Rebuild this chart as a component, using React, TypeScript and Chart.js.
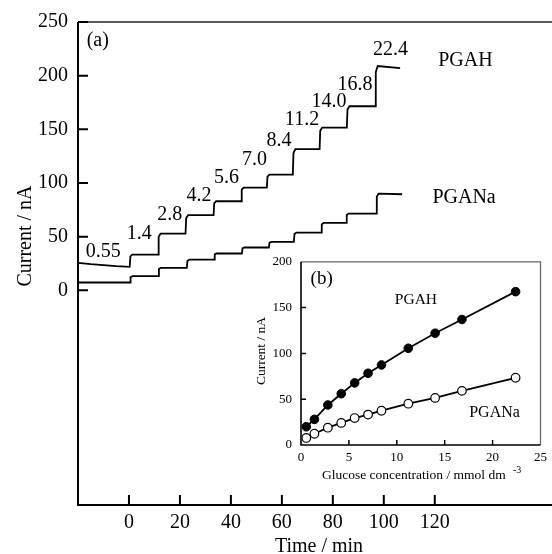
import { useEffect, useRef } from 'react';
import { Chart, registerables } from 'chart.js';

Chart.register(...registerables);

const FONT = '"Liberation Serif", "Times New Roman", Times, serif';

// ---------- panel (a): current vs time ----------
const timeTicks = [0, 20, 40, 60, 80, 100, 120];
const currentTicks = [0, 50, 100, 150, 200, 250];

// PGAH trace
const pgahBaseTimes = [-20, -15, -10, -5, 0.3];
const pgahBaseValues = [25.6, 24.4, 23.5, 22.5, 21.9];
const pgahStepTimes = [0.3, 11.4, 22.2, 33.2, 44.0, 54.1, 64.3, 74.8, 85.5, 96.6];
const pgahStepLevels = [33.3, 52.9, 70.0, 83.0, 95.7, 107.8, 131.5, 151.6, 171.5, 209.0];
const pgahEndTime = 106.4;
const pgahEndValue = 207.0;

// PGANa trace
const pganaBaseTimes = [-20, 0.5];
const pganaBaseValues = [7.3, 7.3];
const pganaStepTimes = [0.5, 11.5, 22.7, 33.4, 44.3, 54.9, 64.7, 75.4, 85.2, 97.0];
const pganaStepLevels = [13.2, 21.0, 28.7, 34.3, 39.9, 45.2, 53.8, 62.8, 71.5, 90.1];
const pganaEndTime = 107.2;
const pganaEndValue = 89.5;

// concentration annotations (mmol dm-3), anchored in data units
const concLabels = ['0.55', '1.4', '2.8', '4.2', '5.6', '7.0', '8.4', '11.2', '14.0', '16.8', '22.4'];
const concLabelTimes = [-10.1, 4.0, 16.0, 27.5, 38.3, 49.3, 58.9, 67.9, 78.5, 88.7, 102.6];
const concLabelCurrents = [35.8, 52.6, 70.3, 88.0, 104.7, 121.5, 139.2, 158.8, 175.5, 191.3, 224.0];

// ---------- panel (b): calibration ----------
const glucoseConc = [0.55, 1.4, 2.8, 4.2, 5.6, 7.0, 8.4, 11.2, 14.0, 16.8, 22.4];
const pgahCalib = [19.9, 28.0, 43.7, 56.0, 67.8, 78.3, 87.4, 105.6, 122.0, 137.0, 167.4];
const pganaCalib = [7.7, 12.3, 18.9, 24.1, 29.4, 33.2, 37.4, 45.1, 51.4, 59.1, 73.4];
const insetXTicks = [0, 5, 10, 15, 20, 25];
const insetYTicks = [0, 50, 100, 150, 200];

function buildTrace(
  baseT: number[], baseV: number[], stepT: number[], stepV: number[], endT: number, endV: number
) {
  const pts: { x: number; y: number }[] = baseT.map((t, i) => ({ x: t, y: baseV[i] }));
  let prev = baseV[baseV.length - 1];
  stepT.forEach((t, i) => {
    const lv = stepV[i];
    pts.push({ x: t, y: prev });
    pts.push({ x: t + 0.25, y: prev + 0.85 * (lv - prev) });
    pts.push({ x: t + 1.0, y: lv });
    prev = lv;
  });
  pts.push({ x: endT, y: endV });
  return pts;
}

function text(ctx: CanvasRenderingContext2D, s: string, x: number, y: number, size: number, align: CanvasTextAlign = 'center') {
  ctx.font = `${size}px ${FONT}`;
  ctx.fillStyle = '#000';
  ctx.textAlign = align;
  ctx.textBaseline = 'middle';
  ctx.fillText(s, x, y);
}

export default function App() {
  const mainRef = useRef<HTMLCanvasElement>(null);
  const insetRef = useRef<HTMLCanvasElement>(null);

  useEffect(() => {
    document.body.style.margin = '0';

    const mainPlugin = {
      id: 'mainDecor',
      afterDraw(chart: any) {
        const { ctx, chartArea: a, scales } = chart;
        const x = scales.x, y = scales.y;
        ctx.save();
        ctx.strokeStyle = '#000';
        ctx.lineWidth = 2;
        ctx.beginPath();
        ctx.moveTo(a.left, a.top);
        ctx.lineTo(a.left, a.bottom);
        ctx.lineTo(a.right, a.bottom);
        ctx.stroke();
        ctx.lineWidth = 1.5;
        ctx.strokeStyle = '#222';
        ctx.beginPath();
        ctx.moveTo(a.left, a.top);
        ctx.lineTo(a.right, a.top);
        ctx.stroke();
        ctx.strokeStyle = '#000';
        ctx.lineWidth = 2;
        ctx.beginPath();
        timeTicks.forEach((v) => {
          const px = x.getPixelForValue(v);
          ctx.moveTo(px, a.bottom);
          ctx.lineTo(px, a.bottom - 10);
        });
        currentTicks.forEach((v) => {
          const py = y.getPixelForValue(v);
          ctx.moveTo(a.left, py);
          ctx.lineTo(a.left + 10, py);
        });
        ctx.stroke();

        concLabels.forEach((s, i) => {
          text(ctx, s, x.getPixelForValue(concLabelTimes[i]), y.getPixelForValue(concLabelCurrents[i]), 20);
        });
        text(ctx, 'PGAH', x.getPixelForValue(132), y.getPixelForValue(213.7), 20);
        text(ctx, 'PGANa', x.getPixelForValue(131.5), y.getPixelForValue(86.1), 20);
        text(ctx, '(a)', x.getPixelForValue(-16.6), y.getPixelForValue(232.3), 20, 'left');

        text(ctx, 'Time / min', (a.left + a.right) / 2 + 4, 547, 20);
        ctx.save();
        ctx.translate(26, 236);
        ctx.rotate(-Math.PI / 2);
        text(ctx, 'Current / nA', 0, 0, 20);
        ctx.restore();
        ctx.restore();
      },
    };

    const main = new Chart(mainRef.current!, {
      type: 'scatter',
      data: {
        datasets: [
          {
            label: 'PGAH',
            data: buildTrace(pgahBaseTimes, pgahBaseValues, pgahStepTimes, pgahStepLevels, pgahEndTime, pgahEndValue),
            showLine: true,
            borderColor: '#000',
            borderWidth: 1.8,
            pointRadius: 0,
            tension: 0,
          },
          {
            label: 'PGANa',
            data: buildTrace(pganaBaseTimes, pganaBaseValues, pganaStepTimes, pganaStepLevels, pganaEndTime, pganaEndValue),
            showLine: true,
            borderColor: '#000',
            borderWidth: 1.8,
            pointRadius: 0,
            tension: 0,
          },
        ],
      },
      options: {
        responsive: false,
        animation: false,
        layout: { padding: { top: 20, left: 0, right: 0, bottom: 0 } },
        plugins: { legend: { display: false }, tooltip: { enabled: false } },
        scales: {
          x: {
            type: 'linear',
            min: -20,
            max: 166,
            afterBuildTicks: (s: any) => { s.ticks = timeTicks.map((v) => ({ value: v })); },
            afterFit: (s: any) => { s.height = 49; },
            grid: { display: false, drawTicks: false },
            border: { display: false },
            ticks: { font: { family: FONT, size: 20 }, color: '#000', padding: 6, maxRotation: 0, autoSkip: false },
          },
          y: {
            type: 'linear',
            min: -200,
            max: 250,
            afterBuildTicks: (s: any) => { s.ticks = currentTicks.map((v) => ({ value: v })); },
            afterFit: (s: any) => { s.width = 78; },
            grid: { display: false, drawTicks: false },
            border: { display: false },
            ticks: { font: { family: FONT, size: 20 }, color: '#000', padding: 10, autoSkip: false },
          },
        },
      },
      plugins: [mainPlugin],
    } as any);

    const insetPlugin = {
      id: 'insetDecor',
      afterDraw(chart: any) {
        const { ctx, chartArea: a, scales } = chart;
        const x = scales.x, y = scales.y;
        ctx.save();
        ctx.strokeStyle = '#666';
        ctx.lineWidth = 1.3;
        ctx.beginPath();
        ctx.moveTo(a.left, a.top);
        ctx.lineTo(a.right, a.top);
        ctx.lineTo(a.right, a.bottom);
        ctx.stroke();
        ctx.strokeStyle = '#000';
        ctx.lineWidth = 1.6;
        ctx.beginPath();
        ctx.moveTo(a.left, a.top);
        ctx.lineTo(a.left, a.bottom);
        ctx.lineTo(a.right, a.bottom);
        ctx.stroke();
        ctx.lineWidth = 1.5;
        ctx.beginPath();
        insetXTicks.slice(1, -1).forEach((v) => {
          const px = x.getPixelForValue(v);
          ctx.moveTo(px, a.bottom);
          ctx.lineTo(px, a.bottom - 5);
        });
        insetYTicks.slice(1, -1).forEach((v) => {
          const py = y.getPixelForValue(v);
          ctx.moveTo(a.left, py);
          ctx.lineTo(a.left + 5, py);
        });
        ctx.stroke();

        text(ctx, '(b)', x.getPixelForValue(1.0), y.getPixelForValue(181), 19, 'left');
        text(ctx, 'PGAH', x.getPixelForValue(12.0), y.getPixelForValue(158.5), 15.5);
        text(ctx, 'PGANa', x.getPixelForValue(20.2), y.getPixelForValue(35.3), 16);

        text(ctx, 'Glucose concentration / mmol dm', 82, 230, 13.5, 'left');
        text(ctx, '-3', 273, 225, 10, 'left');
        ctx.save();
        ctx.translate(21, 106);
        ctx.rotate(-Math.PI / 2);
        text(ctx, 'Current / nA', 0, 0, 13.5);
        ctx.restore();
        ctx.restore();
      },
    };

    const inset = new Chart(insetRef.current!, {
      type: 'scatter',
      data: {
        datasets: [
          {
            label: 'PGAH',
            data: glucoseConc.map((c, i) => ({ x: c, y: pgahCalib[i] })),
            showLine: true,
            borderColor: '#000',
            borderWidth: 1.8,
            pointRadius: 4.3,
            pointBackgroundColor: '#000',
            pointBorderColor: '#000',
            pointBorderWidth: 1,
          },
          {
            label: 'PGANa',
            data: glucoseConc.map((c, i) => ({ x: c, y: pganaCalib[i] })),
            showLine: true,
            borderColor: '#000',
            borderWidth: 1.8,
            pointRadius: 4.3,
            pointBackgroundColor: '#fff',
            pointBorderColor: '#000',
            pointBorderWidth: 1.2,
          },
        ],
      },
      options: {
        responsive: false,
        animation: false,
        layout: { padding: { top: 9, left: 0, right: 11, bottom: 0 } },
        plugins: { legend: { display: false }, tooltip: { enabled: false } },
        scales: {
          x: {
            type: 'linear',
            min: 0,
            max: 25,
            afterBuildTicks: (s: any) => { s.ticks = insetXTicks.map((v) => ({ value: v })); },
            afterFit: (s: any) => { s.height = 45; },
            grid: { display: false, drawTicks: false },
            border: { display: false },
            ticks: { font: { family: FONT, size: 13 }, color: '#000', padding: 5, maxRotation: 0, autoSkip: false },
          },
          y: {
            type: 'linear',
            min: 0,
            max: 200,
            afterBuildTicks: (s: any) => { s.ticks = insetYTicks.map((v) => ({ value: v })); },
            afterFit: (s: any) => { s.width = 61; },
            grid: { display: false, drawTicks: false },
            border: { display: false },
            ticks: { font: { family: FONT, size: 13 }, color: '#000', padding: 9, autoSkip: false },
          },
        },
      },
      plugins: [insetPlugin],
    } as any);

    return () => {
      main.destroy();
      inset.destroy();
    };
  }, []);

  return (
    <div style={{ position: 'relative', width: 552, height: 554, background: '#fff', overflow: 'hidden' }}>
      <canvas ref={mainRef} width={552} height={554} style={{ position: 'absolute', left: 0, top: 0 }} />
      <canvas ref={insetRef} width={312} height={245} style={{ position: 'absolute', left: 240, top: 245 }} />
    </div>
  );
}
